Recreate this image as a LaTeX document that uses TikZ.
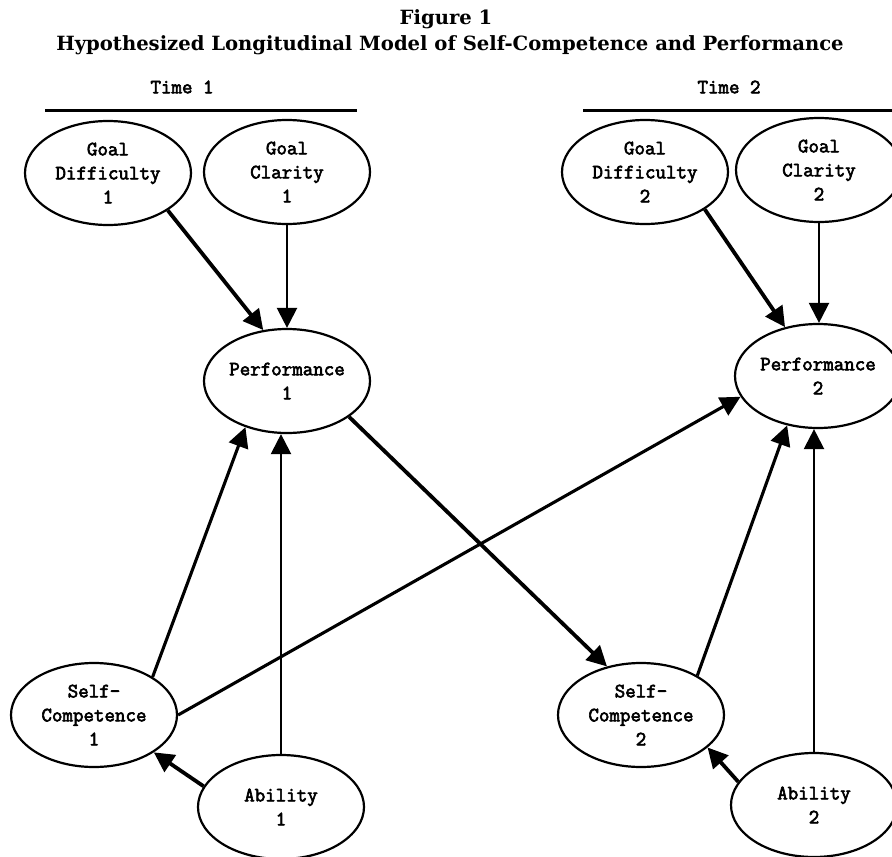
\documentclass[tikz,border=0pt]{standalone}
\usepackage{fontspec}
\setmainfont{DejaVu Serif}
\newfontfamily\boxfont{Latin Modern Mono}[FakeBold=3]
\usetikzlibrary{arrows.meta,shapes.geometric}

\begin{document}
\begin{tikzpicture}[x=1pt,y=-1pt,
  var/.style={ellipse,draw,line width=2.2pt,minimum width=166pt,minimum height=104pt,
    inner sep=0pt,align=center,font=\fontsize{20.4}{24}\selectfont\boxfont\bfseries},
  heavy/.style={-{Triangle[length=20pt,width=20pt]},line width=3.8pt},
  medium/.style={-{Triangle[length=20pt,width=20pt]},line width=3.1pt},
  light/.style={-{Triangle[length=20pt,width=20pt]},line width=2.3pt},
  timelabel/.style={font=\fontsize{20.4}{22}\selectfont\boxfont\bfseries}]
  \useasboundingbox (0,0) rectangle (892,857);
  \path
  node[font=\fontsize{19.6}{24}\selectfont\bfseries] (fig) at (446,19) {Figure 1}
  node[font=\fontsize{19.6}{24}\selectfont\bfseries] (title) at (450,45)
    {Hypothesized Longitudinal Model of Self-Competence and Performance}
  node[timelabel] (time_1) at (182,87) {Time 1}
  node[timelabel] (time_2) at (729,87) {Time 2}
  coordinate (rule_1a) at (45,110) coordinate (rule_1b) at (357,110)
  coordinate (rule_2a) at (583,110) coordinate (rule_2b) at (900,110)
  node[var] (gd_1) at (108,173) {Goal\\Difficulty\\1}
  node[var] (gc_1) at (287,172) {Goal\\Clarity\\1}
  node[var] (perf_1) at (287,381) {Performance\\1}
  node[var] (sc_1) at (94,715) {Self-\\Competence\\1}
  node[var] (ab_1) at (281,807) {Ability\\1}
  node[var] (gd_2) at (645,172) {Goal\\Difficulty\\2}
  node[var] (gc_2) at (819,170) {Goal\\Clarity\\2}
  node[var] (perf_2) at (818,376) {Performance\\2}
  node[var] (sc_2) at (641,715) {Self-\\Competence\\2}
  node[var] (ab_2) at (814,805) {Ability\\2}
  ;
  \draw[line width=3pt] (rule_1a) -- (rule_1b);
  \draw[line width=3pt] (rule_2a) -- (rule_2b);
  \path
  (gd_1.328) edge[heavy] (perf_1.115)
  (gc_1.south) edge[light] (gc_1.south |- perf_1.north)
  (gd_2.328) edge[heavy] (perf_2.124)
  (gc_2.south) edge[light] (gc_2.south |- perf_2.north)

  (perf_1.330) edge[heavy] (sc_2.125)
  (sc_1.east) edge[medium] (perf_2.195)
  (sc_1.33) edge[medium] (perf_1.228)
  (ab_1.north) edge[light] (ab_1.north |- perf_1.south)
  (ab_1.165) edge[heavy] (sc_1.328)

  (sc_2.35) edge[medium] (perf_2.238)
  (ab_2.north) edge[light] (ab_2.north |- perf_2.south)
  (ab_2.163) edge[heavy] (sc_2.334)
  ;
\end{tikzpicture}
\end{document}
